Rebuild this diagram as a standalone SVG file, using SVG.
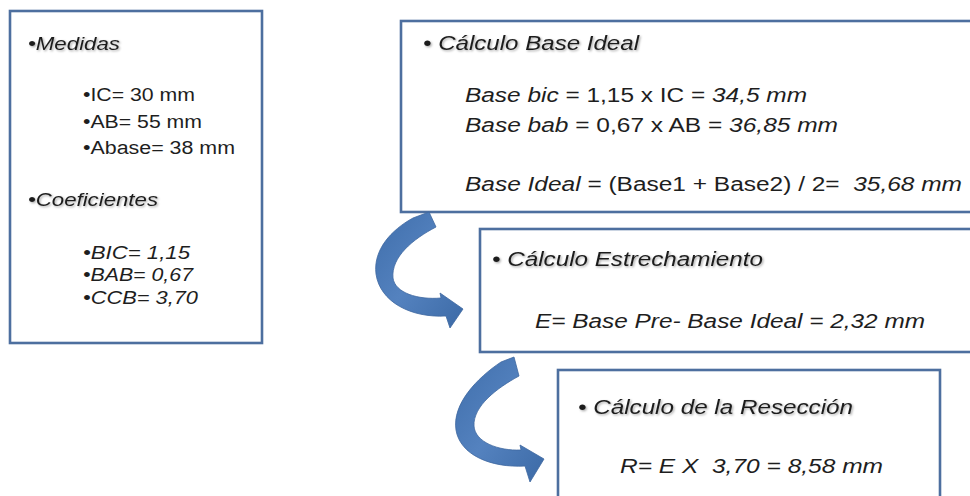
<svg xmlns="http://www.w3.org/2000/svg" width="970" height="496" viewBox="0 0 970 496">
<style>
.box{fill:#ffffff;stroke:#4d6f9f;stroke-width:2.6}
.t{font-family:"Liberation Sans",Arial,sans-serif;fill:#1e1e1e}
.l{font-size:18px}
.r{font-size:19.5px}
.i{font-style:italic}
.sh{filter:url(#ts)}
.arrow{fill:url(#ag);stroke:#3d67a0;stroke-width:0.8}
</style>
<defs>
<linearGradient id="ag" x1="0" y1="0" x2="1" y2="1">
<stop offset="0" stop-color="#3f6eab"/>
<stop offset="0.5" stop-color="#5482bf"/>
<stop offset="1" stop-color="#3c6aa6"/>
</linearGradient>
<filter id="ts" x="-5%" y="-30%" width="115%" height="170%">
<feDropShadow dx="1.2" dy="1.2" stdDeviation="0.9" flood-color="#000000" flood-opacity="0.35"/>
</filter>
</defs>
<rect width="970" height="496" fill="#ffffff"/>

<g id="medidas">
<rect class="box" x="10" y="11" width="252" height="332"/>
<text class="t l i sh" x="28" y="50" textLength="92" lengthAdjust="spacingAndGlyphs">•Medidas</text>
<text class="t l" x="83" y="101" textLength="112" lengthAdjust="spacingAndGlyphs">•IC= 30 mm</text>
<text class="t l" x="83" y="128" textLength="119" lengthAdjust="spacingAndGlyphs">•AB= 55 mm</text>
<text class="t l" x="83" y="154" textLength="152" lengthAdjust="spacingAndGlyphs">•Abase= 38 mm</text>
<text class="t l i sh" x="28" y="206" textLength="130" lengthAdjust="spacingAndGlyphs">•Coeficientes</text>
<text class="t l i" x="83" y="259" textLength="107" lengthAdjust="spacingAndGlyphs">•BIC= 1,15</text>
<text class="t l i" x="83" y="281" textLength="110" lengthAdjust="spacingAndGlyphs">•BAB= 0,67</text>
<text class="t l i" x="83" y="304" textLength="115" lengthAdjust="spacingAndGlyphs">•CCB= 3,70</text>
</g>

<g id="base-ideal">
<rect class="box" x="401" y="21" width="600" height="191"/>
<text class="t r i sh" x="423" y="50" textLength="216" lengthAdjust="spacingAndGlyphs">• Cálculo Base Ideal</text>
<text class="t r" x="465" y="102" textLength="342" lengthAdjust="spacingAndGlyphs"><tspan class="i">Base bic</tspan> = 1,15 x IC = <tspan class="i">34,5 mm</tspan></text>
<text class="t r" x="465" y="132" textLength="373" lengthAdjust="spacingAndGlyphs"><tspan class="i">Base bab</tspan> = 0,67 x AB = <tspan class="i">36,85 mm</tspan></text>
<text class="t r" x="465" y="191" textLength="497" lengthAdjust="spacingAndGlyphs" xml:space="preserve"><tspan class="i">Base Ideal</tspan> = (Base1 + Base2) / 2=  <tspan class="i">35,68 mm</tspan></text>
</g>

<g id="estrechamiento">
<rect class="box" x="480" y="229" width="520" height="123"/>
<text class="t r i sh" x="492" y="266" textLength="271" lengthAdjust="spacingAndGlyphs">• Cálculo Estrechamiento</text>
<text class="t r i" x="535" y="328" textLength="390" lengthAdjust="spacingAndGlyphs">E= Base Pre- Base Ideal = 2,32 mm</text>
</g>

<g id="reseccion">
<rect class="box" x="558" y="370" width="382" height="140"/>
<text class="t r i sh" x="578" y="414" textLength="275" lengthAdjust="spacingAndGlyphs">• Cálculo de la Resección</text>
<text class="t r i" x="620" y="473" textLength="263" lengthAdjust="spacingAndGlyphs" xml:space="preserve">R= E X  3,70 = 8,58 mm</text>
</g>

<g id="connectors">
<path class="arrow" d="M413,218 L429,212 L436,227 C413,239 391,257 393,278 C395,293 418,300 441,298 L440,293 L463,309 L450,328 L446,316 C411,318 380,302 376,274 C373,250 391,230 413,218 Z"/>
<path class="arrow" d="M501,362 L514,357 L519,376 C497,388 473,406 474,426 C475,442 498,451 521,450 L520,445 L544,459 L530,482 L525,466 C491,468 460,455 456,430 C452,404 477,378 501,362 Z"/>
</g>
</svg>
